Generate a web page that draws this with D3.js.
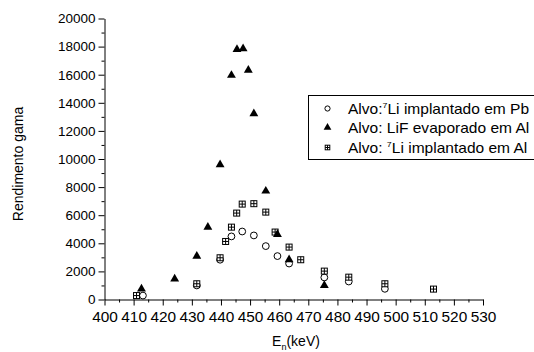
<!DOCTYPE html>
<html>
<head>
<meta charset="utf-8">
<script src="https://cdn.jsdelivr.net/npm/d3@7"></script>
<style>
  body { margin: 0; background: #fff; }
  svg { font-family: Arial, "Liberation Sans", sans-serif; }
</style>
</head>
<body>
<div class="chart"></div>
<script>
// Alvo: 7Li implantado em Pb (open circles)
const pbEnergy = [413.2, 431.7, 439.7, 443.6, 447.3, 451.3, 455.4, 459.4, 463.4, 475.5, 483.9, 496.3];
const pbYield = [280, 1000, 2830, 4490, 4840, 4560, 3800, 3090, 2560, 1570, 1280, 760];

// Alvo: LiF evaporado em Al (filled triangles)
const lifEnergy = [412.7, 424.1, 431.7, 435.5, 439.7, 443.6, 445.5, 447.6, 449.4, 451.3, 455.4, 459.4, 463.4, 475.5];
const lifYield = [760, 1470, 3090, 5150, 9600, 15960, 17800, 17850, 16320, 13230, 7720, 4630, 2830, 1000];

// Alvo: 7Li implantado em Al (crossed squares)
const alEnergy = [411.0, 431.7, 439.7, 441.6, 443.6, 445.4, 447.3, 451.3, 455.4, 458.6, 463.4, 467.4, 475.5, 483.9, 496.3, 513.0];
const alYield = [280, 1120, 2970, 4130, 5150, 6150, 6790, 6820, 6220, 4800, 3730, 2830, 2020, 1590, 1120, 740];

const xTicks = d3.range(400, 531, 10);
const yTicks = d3.range(0, 20001, 2000);

const width = 534, height = 352;
const margin = { left: 104.5, right: 51, top: 18.5, bottom: 52.5 };

const svg = d3.select('.chart').append('svg')
    .attr('width', width)
    .attr('height', height);

const x = d3.scaleLinear().domain([400, 530]).range([margin.left, width - margin.right]);
const y = d3.scaleLinear().domain([0, 20000]).range([height - margin.bottom, margin.top]);

// eixos
const xAxis = svg.append('g')
    .attr('transform', `translate(0,${y(0)})`)
    .call(d3.axisBottom(x).tickValues(xTicks).tickSize(6).tickSizeOuter(0).tickFormat(d3.format('d')));
svg.append('g')
    .attr('transform', `translate(0,${y(0)})`)
    .call(d3.axisBottom(x).tickValues(d3.range(405, 530, 10)).tickSize(3).tickFormat(''))
    .select('.domain').remove();

const yAxis = svg.append('g')
    .attr('transform', `translate(${x(400)},0)`)
    .call(d3.axisLeft(y).tickValues(yTicks).tickSize(6).tickSizeOuter(0).tickFormat(d3.format('d')));
svg.append('g')
    .attr('transform', `translate(${x(400)},0)`)
    .call(d3.axisLeft(y).tickValues(d3.range(1000, 20000, 2000)).tickSize(3).tickFormat(''))
    .select('.domain').remove();

svg.selectAll('.domain, .tick line').attr('stroke', '#000').attr('stroke-width', 1);
xAxis.selectAll('text').attr('font-size', 14).attr('y', 9).attr('dy', '0.95em')
    .attr('transform', 'scale(1.1,1)').attr('fill', '#000');
yAxis.selectAll('text').attr('font-size', 13.5).attr('x', -9).attr('fill', '#000');

// titulos dos eixos
svg.append('text')
    .attr('transform', `translate(23,164) rotate(-90)`)
    .attr('text-anchor', 'middle')
    .attr('font-size', 14)
    .text('Rendimento gama');

const xl = svg.append('text')
    .attr('x', 296)
    .attr('y', 346)
    .attr('text-anchor', 'middle')
    .attr('font-size', 14)
    .text('E');
xl.append('tspan').attr('font-size', 9).attr('dy', 4).text('n');
xl.append('tspan').attr('dy', -4).text('(keV)');

// marcadores
function drawCircle(g, cx, cy, r) {
    g.append('circle').attr('cx', cx).attr('cy', cy).attr('r', r)
        .attr('fill', '#fff').attr('stroke', '#000').attr('stroke-width', 1);
}
function drawTriangle(g, cx, cy, size) {
    g.append('path')
        .attr('d', d3.symbol().type(d3.symbolTriangle).size(size)())
        .attr('transform', `translate(${cx},${cy})`)
        .attr('fill', '#000');
}
function drawSquare(g, cx, cy, s) {
    g.append('rect').attr('x', cx - s).attr('y', cy - s).attr('width', 2 * s).attr('height', 2 * s)
        .attr('fill', '#fff').attr('stroke', '#000').attr('stroke-width', 1);
    g.append('path').attr('d', `M${cx - s},${cy}H${cx + s}M${cx},${cy - s}V${cy + s}`)
        .attr('stroke', '#000').attr('stroke-width', 1);
}

const marks = svg.append('g');
pbEnergy.forEach((e, i) => drawCircle(marks, x(e), y(pbYield[i]), 3.4));
alEnergy.forEach((e, i) => drawSquare(marks, x(e), y(alYield[i]), 3));
lifEnergy.forEach((e, i) => drawTriangle(marks, x(e), y(lifYield[i]), 34));

// legenda
const leg = svg.append('g');
leg.append('rect').attr('x', 308.5).attr('y', 95.5).attr('width', 240).attr('height', 64)
    .attr('fill', '#fff').attr('stroke', '#000').attr('stroke-width', 1);
const rowY = [108.5, 127.5, 147.5];
drawCircle(leg, 327.5, rowY[0], 2.6);
drawTriangle(leg, 327.5, rowY[1], 26);
drawSquare(leg, 327.5, rowY[2], 2.3);

function legendText(row) {
    return leg.append('text')
        .attr('transform', `translate(348,${rowY[row] + 5}) scale(1.11,1)`)
        .attr('font-size', 14);
}
const t0 = legendText(0).text('Alvo:');
t0.append('tspan').attr('font-size', 8).attr('dy', -6).text('7');
t0.append('tspan').attr('dy', 6).text('Li implantado em Pb');
legendText(1).text('Alvo: LiF evaporado em Al');
const t2 = legendText(2).text('Alvo: ');
t2.append('tspan').attr('font-size', 8).attr('dy', -6).text('7');
t2.append('tspan').attr('dy', 6).text('Li implantado em Al');
</script>
</body>
</html>
